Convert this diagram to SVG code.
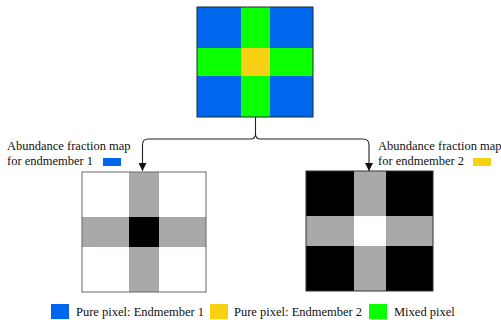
<svg xmlns="http://www.w3.org/2000/svg" width="501" height="320" viewBox="0 0 501 320">
<defs>
<style>
.t{font-family:"Liberation Serif","Times New Roman",serif;font-size:12.5px;fill:#111}
.b{fill:#0066EE}.g{fill:#0AFF00}.y{fill:#F9D114}.gr{fill:#AAA8A8}.k{fill:#000}.w{fill:#fff}
.c{fill:none;stroke:#222;stroke-width:1.1}
</style>
<marker id="ah" viewBox="0 0 10 10" refX="10" refY="5" markerWidth="8" markerHeight="8" markerUnits="userSpaceOnUse" orient="auto">
<path d="M0,0 L10,5 L0,10 z" fill="#111"/>
</marker>
</defs>
<rect width="501" height="320" fill="#fff"/>
<g id="mixed-image">
<rect class="b" x="197" y="7" width="44" height="41"/>
<rect class="g" x="241" y="7" width="29" height="41"/>
<rect class="b" x="270" y="7" width="43" height="41"/>
<rect class="g" x="197" y="48" width="44" height="28"/>
<rect class="y" x="241" y="48" width="29" height="28"/>
<rect class="g" x="270" y="48" width="43" height="28"/>
<rect class="b" x="197" y="76" width="44" height="41"/>
<rect class="g" x="241" y="76" width="29" height="41"/>
<rect class="b" x="270" y="76" width="43" height="41"/>
<rect x="197" y="7" width="116" height="110" fill="none" stroke="#1b2a3a" stroke-width="1"/>
</g>
<g id="connectors">
<path class="c" d="M255.5,117 V134 Q255.5,139 250.5,139 H148 Q142.5,139 142.5,145 V171" marker-end="url(#ah)"/>
<path class="c" d="M255.5,134 Q255.5,139 260.5,139 H363 Q369,139 369,145 V171" marker-end="url(#ah)"/>
</g>
<g id="map1">
<rect class="w" x="82" y="172" width="47" height="45"/>
<rect class="gr" x="129" y="172" width="30" height="45"/>
<rect class="w" x="159" y="172" width="47" height="45"/>
<rect class="gr" x="82" y="217" width="47" height="30"/>
<rect class="k" x="129" y="217" width="30" height="30"/>
<rect class="gr" x="159" y="217" width="47" height="30"/>
<rect class="w" x="82" y="247" width="47" height="45"/>
<rect class="gr" x="129" y="247" width="30" height="45"/>
<rect class="w" x="159" y="247" width="47" height="45"/>
<rect x="82" y="172" width="124" height="120" fill="none" stroke="#666" stroke-width="1"/>
</g>
<g id="map2">
<rect class="k" x="306" y="171" width="48" height="45"/>
<rect class="gr" x="354" y="171" width="32" height="45"/>
<rect class="k" x="386" y="171" width="47" height="45"/>
<rect class="gr" x="306" y="216" width="48" height="30"/>
<rect class="w" x="354" y="216" width="32" height="30"/>
<rect class="gr" x="386" y="216" width="47" height="30"/>
<rect class="k" x="306" y="246" width="48" height="45"/>
<rect class="gr" x="354" y="246" width="32" height="45"/>
<rect class="k" x="386" y="246" width="47" height="45"/>
<rect x="306" y="171" width="127" height="120" fill="none" stroke="#333" stroke-width="1"/>
</g>
<g id="label1">
<text class="t" x="7" y="150">Abundance fraction map</text>
<text class="t" x="7" y="165">for endmember 1</text>
<rect class="b" x="103" y="158" width="18" height="8"/>
</g>
<g id="label2">
<text class="t" x="378" y="150">Abundance fraction map</text>
<text class="t" x="378" y="165">for endmember 2</text>
<rect class="y" x="473" y="158" width="18" height="8"/>
</g>
<g id="legend">
<rect class="b" x="51" y="304" width="18" height="15"/>
<text class="t" x="76" y="316">Pure pixel: Endmember 1</text>
<rect class="y" x="210" y="304" width="18" height="15"/>
<text class="t" x="234" y="316">Pure pixel: Endmember 2</text>
<rect class="g" x="369" y="304" width="18" height="15"/>
<text class="t" x="394" y="316">Mixed pixel</text>
</g>
</svg>
